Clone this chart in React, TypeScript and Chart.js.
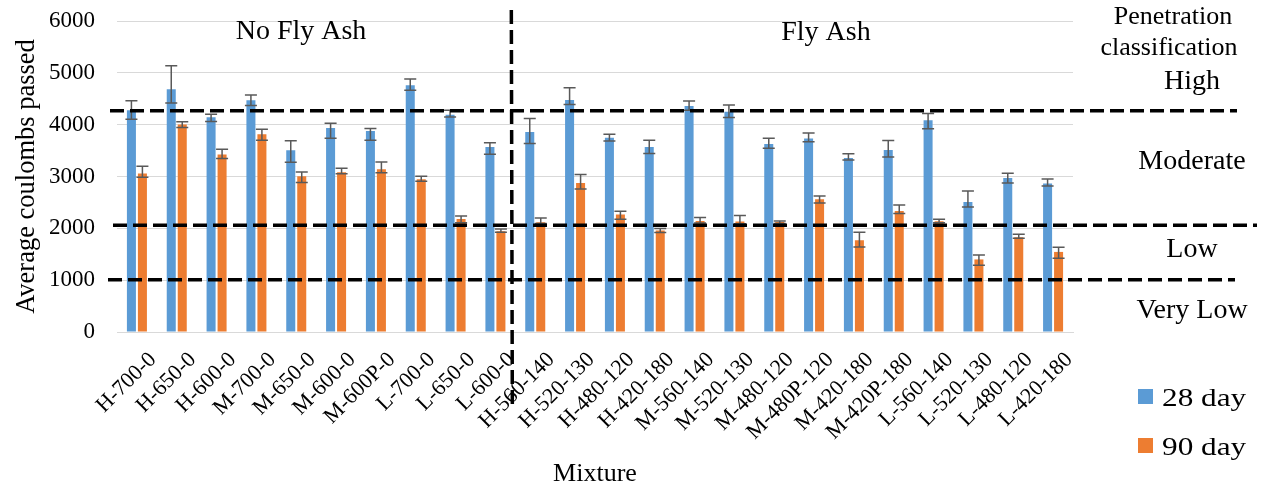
import { useEffect, useRef } from "react";
import { Chart, registerables } from "chart.js";

Chart.register(...registerables);

// Mixture designations along the category axis
const mixtures = [
  "H-700-0", "H-650-0", "H-600-0", "M-700-0", "M-650-0", "M-600-0", "M-600P-0",
  "L-700-0", "L-650-0", "L-600-0",
  "H-560-140", "H-520-130", "H-480-120", "H-420-180", "M-560-140", "M-520-130",
  "M-480-120", "M-480P-120", "M-420-180", "M-420P-180", "L-560-140", "L-520-130",
  "L-480-120", "L-420-180",
];
// The first mixtures contain no fly ash
const noFlyAshCount = 10;

// Average coulombs passed at 28 days, with error bar extents
const day28 = [
  4280, 4685, 4145, 4470, 3505, 3935, 3880, 4760, 4190, 3570,
  3860, 4475, 3750, 3570, 4360, 4250, 3625, 3735, 3355, 3510, 4085, 2510, 2970, 2865,
];
const day28ErrPlus = [
  180, 450, 55, 100, 185, 90, 45, 120, 90, 80,
  260, 235, 65, 130, 95, 130, 115, 105, 85, 185, 130, 210, 95, 85,
];
const day28ErrMinus = [
  175, 265, 85, 100, 230, 195, 180, 95, 40, 140,
  225, 85, 65, 125, 80, 110, 80, 65, 35, 135, 165, 100, 95, 50,
];

// Average coulombs passed at 90 days, with error bar extents
const day90 = [
  3060, 4005, 3425, 3815, 3005, 3080, 3140, 2945, 2180, 1945,
  2115, 2875, 2265, 1960, 2140, 2130, 2120, 2560, 1770, 2335, 2135, 1400, 1830, 1545,
];
const day90ErrPlus = [
  140, 50, 100, 95, 80, 80, 140, 60, 60, 40,
  85, 165, 65, 35, 70, 120, 20, 65, 155, 115, 40, 85, 55, 90,
];
const day90ErrMinus = [
  75, 60, 80, 115, 120, 25, 70, 35, 70, 20,
  20, 115, 90, 40, 35, 40, 25, 70, 130, 50, 25, 110, 20, 120,
];

// Value axis range
const yMin = 0;
const yMax = 6000;
const yStep = 1000;

// Penetration classification boundaries (dashed lines) and class names
const classBoundaries = [4270, 2060, 1010];
const classNames = ["High", "Moderate", "Low", "Very Low"];
const groupNames = ["No Fly Ash", "Fly Ash"];

const FONT = "'Liberation Serif', 'Times New Roman', serif";
const BLUE = "#5B9BD5";
const ORANGE = "#ED7D31";

const errorBars = [
  [day28ErrPlus, day28ErrMinus],
  [day90ErrPlus, day90ErrMinus],
];

const overlay = {
  id: "overlay",
  afterDatasetsDraw(chart: any) {
    const { ctx } = chart;
    const y = chart.scales.y;
    ctx.save();
    ctx.strokeStyle = "#595959";
    ctx.lineWidth = 1.5;
    chart.data.datasets.forEach((ds: any, di: number) => {
      const meta = chart.getDatasetMeta(di);
      const [plus, minus] = errorBars[di];
      meta.data.forEach((bar: any, i: number) => {
        const v = ds.data[i];
        const x = bar.x;
        const top = y.getPixelForValue(v + plus[i]);
        const bot = y.getPixelForValue(v - minus[i]);
        const hw = bar.width / 2 + 1.5;
        ctx.beginPath();
        ctx.moveTo(x, top);
        ctx.lineTo(x, bot);
        ctx.moveTo(x - hw, top);
        ctx.lineTo(x + hw, top);
        ctx.moveTo(x - hw, bot);
        ctx.lineTo(x + hw, bot);
        ctx.stroke();
      });
    });
    ctx.restore();
  },
  afterDraw(chart: any) {
    const { ctx, chartArea } = chart;
    const { left, right, top, bottom } = chartArea;
    const x = chart.scales.x;
    const y = chart.scales.y;

    ctx.save();
    // classification boundaries
    ctx.strokeStyle = "#000";
    ctx.lineWidth = 3.5;
    ctx.setLineDash([14, 6]);
    const extents = [
      [left - 7, right + 164],
      [left - 4, right + 184],
      [left - 9, right + 162],
    ];
    classBoundaries.forEach((v, i) => {
      const py = y.getPixelForValue(v);
      ctx.beginPath();
      ctx.moveTo(extents[i][0], py);
      ctx.lineTo(extents[i][1], py);
      ctx.stroke();
    });
    // split between mixtures without and with fly ash
    const splitX =
      (x.getPixelForValue(noFlyAshCount - 1) + x.getPixelForValue(noFlyAshCount)) / 2 - 4;
    ctx.beginPath();
    ctx.moveTo(splitX, top - 11);
    ctx.lineTo(splitX + 1, bottom + 76);
    ctx.stroke();
    ctx.setLineDash([]);

    ctx.fillStyle = "#000";
    ctx.textAlign = "center";
    ctx.textBaseline = "alphabetic";

    // group headings
    ctx.font = `28px ${FONT}`;
    ctx.fillText(groupNames[0], left + 184, top + 18);
    ctx.fillText(groupNames[1], left + 709, top + 19);

    // classification heading and classes
    const cx = right + 119;
    ctx.font = `26px ${FONT}`;
    ctx.fillText("Penetration", cx - 19, top + 3);
    ctx.fillText("classification", cx - 23, top + 34);
    ctx.font = `28px ${FONT}`;
    ctx.fillText(classNames[0], cx, top + 68);
    ctx.fillText(classNames[1], cx, top + 148);
    ctx.fillText(classNames[2], cx, top + 236);
    ctx.fillText(classNames[3], cx, top + 297);

    // axis titles
    ctx.font = `26px ${FONT}`;
    ctx.fillText("Mixture", (left + right) / 2, chart.height - 10);
    ctx.save();
    ctx.translate(27, (top + bottom) / 2);
    ctx.rotate(-Math.PI / 2);
    ctx.textBaseline = "middle";
    ctx.font = `26.5px ${FONT}`;
    ctx.fillText("Average coulombs passed", 0, 0);
    ctx.restore();

    // legend
    const lx = right + 65;
    chart.data.datasets.forEach((ds: any, i: number) => {
      const sy = chart.height - 102 + i * 49;
      ctx.fillStyle = ds.backgroundColor;
      ctx.fillRect(lx, sy, 15, 15);
      ctx.fillStyle = "#000";
      ctx.save();
      ctx.translate(lx + 24, sy + 17);
      ctx.scale(1.25, 1);
      ctx.textAlign = "left";
      ctx.font = `25px ${FONT}`;
      ctx.fillText(ds.label, 0, 0);
      ctx.restore();
    });
    ctx.restore();
  },
};

export default function App() {
  const canvasRef = useRef<HTMLCanvasElement | null>(null);

  useEffect(() => {
    const canvas = canvasRef.current;
    if (!canvas) return;
    const chart = new Chart(canvas, {
      type: "bar",
      data: {
        labels: mixtures,
        datasets: [
          {
            label: "28 day",
            data: day28,
            backgroundColor: BLUE,
            categoryPercentage: 0.552,
            barPercentage: 0.82,
          },
          {
            label: "90 day",
            data: day90,
            backgroundColor: ORANGE,
            categoryPercentage: 0.552,
            barPercentage: 0.82,
          },
        ],
      },
      options: {
        animation: false,
        responsive: false,
        devicePixelRatio: 1,
        layout: { padding: { left: 0, right: 193, top: 21, bottom: 0 } },
        plugins: {
          legend: { display: false },
          tooltip: { enabled: false },
        },
        scales: {
          x: {
            grid: { display: false, drawTicks: false },
            border: { display: true, color: "#D9D9D9", width: 1 },
            ticks: {
              autoSkip: false,
              minRotation: 45,
              maxRotation: 45,
              padding: 15,
              labelOffset: 16,
              color: "#000",
              font: { family: FONT, size: 22 },
            },
            afterFit: (s: any) => {
              s.height = 159;
            },
          },
          y: {
            min: yMin,
            max: yMax,
            ticks: {
              stepSize: yStep,
              padding: 22,
              color: "#000",
              font: { family: FONT, size: 23 },
              callback: (v: any) => String(v),
            },
            grid: { color: "#D9D9D9", lineWidth: 1, drawTicks: false },
            border: { display: false },
            afterFit: (s: any) => {
              s.width = 117;
              s.paddingTop = 14;
              s.paddingBottom = 14;
            },
          },
        },
      },
      plugins: [overlay],
    });
    return () => chart.destroy();
  }, []);

  return (
    <div style={{ position: "fixed", left: 0, top: 0, width: 1266, height: 491, background: "#fff" }}>
      <canvas ref={canvasRef} width={1266} height={491} />
    </div>
  );
}
